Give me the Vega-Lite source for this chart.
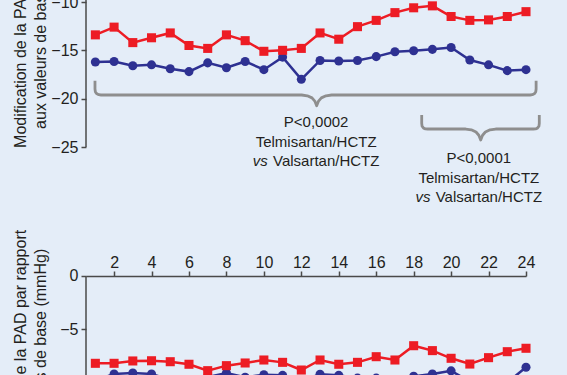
{
  "$schema": "https://vega.github.io/schema/vega-lite/v6.json",
  "width": 440,
  "height": 375,
  "autosize": {"type": "none"},
  "padding": {"left": 86, "top": 0, "right": 41, "bottom": 0},
  "background": "#E4EDF8",
  "config": {
    "view": {"stroke": null},
    "font": "Liberation Sans",
    "axis": {
      "grid": false,
      "labelFont": "Liberation Sans",
      "labelFontSize": 16,
      "labelColor": "#231F20",
      "labelFlush": false,
      "labelOverlap": false,
      "tickColor": "#4a4a4a",
      "domainColor": "#4a4a4a",
      "tickWidth": 1.5,
      "domainWidth": 1.5,
      "tickSize": 5,
      "titleFont": "Liberation Sans",
      "titleFontSize": 16,
      "titleFontWeight": "normal",
      "titleColor": "#231F20"
    }
  },
  "datasets": {
    "top": [
      {"day": 1, "drug": "Telmisartan/HCTZ", "v": -16.2},
      {"day": 2, "drug": "Telmisartan/HCTZ", "v": -16.15},
      {"day": 3, "drug": "Telmisartan/HCTZ", "v": -16.6},
      {"day": 4, "drug": "Telmisartan/HCTZ", "v": -16.5},
      {"day": 5, "drug": "Telmisartan/HCTZ", "v": -16.9},
      {"day": 6, "drug": "Telmisartan/HCTZ", "v": -17.2},
      {"day": 7, "drug": "Telmisartan/HCTZ", "v": -16.3},
      {"day": 8, "drug": "Telmisartan/HCTZ", "v": -16.8},
      {"day": 9, "drug": "Telmisartan/HCTZ", "v": -16.15},
      {"day": 10, "drug": "Telmisartan/HCTZ", "v": -17.0},
      {"day": 11, "drug": "Telmisartan/HCTZ", "v": -15.7},
      {"day": 12, "drug": "Telmisartan/HCTZ", "v": -18.0},
      {"day": 13, "drug": "Telmisartan/HCTZ", "v": -16.05},
      {"day": 14, "drug": "Telmisartan/HCTZ", "v": -16.1},
      {"day": 15, "drug": "Telmisartan/HCTZ", "v": -16.05},
      {"day": 16, "drug": "Telmisartan/HCTZ", "v": -15.65},
      {"day": 17, "drug": "Telmisartan/HCTZ", "v": -15.15},
      {"day": 18, "drug": "Telmisartan/HCTZ", "v": -15.05},
      {"day": 19, "drug": "Telmisartan/HCTZ", "v": -14.9},
      {"day": 20, "drug": "Telmisartan/HCTZ", "v": -14.7},
      {"day": 21, "drug": "Telmisartan/HCTZ", "v": -16.0},
      {"day": 22, "drug": "Telmisartan/HCTZ", "v": -16.5},
      {"day": 23, "drug": "Telmisartan/HCTZ", "v": -17.1},
      {"day": 24, "drug": "Telmisartan/HCTZ", "v": -17.0},
      {"day": 1, "drug": "Valsartan/HCTZ", "v": -13.4},
      {"day": 2, "drug": "Valsartan/HCTZ", "v": -12.6},
      {"day": 3, "drug": "Valsartan/HCTZ", "v": -14.2},
      {"day": 4, "drug": "Valsartan/HCTZ", "v": -13.7},
      {"day": 5, "drug": "Valsartan/HCTZ", "v": -13.2},
      {"day": 6, "drug": "Valsartan/HCTZ", "v": -14.5},
      {"day": 7, "drug": "Valsartan/HCTZ", "v": -14.8},
      {"day": 8, "drug": "Valsartan/HCTZ", "v": -13.4},
      {"day": 9, "drug": "Valsartan/HCTZ", "v": -14.0},
      {"day": 10, "drug": "Valsartan/HCTZ", "v": -15.1},
      {"day": 11, "drug": "Valsartan/HCTZ", "v": -15.0},
      {"day": 12, "drug": "Valsartan/HCTZ", "v": -14.8},
      {"day": 13, "drug": "Valsartan/HCTZ", "v": -13.2},
      {"day": 14, "drug": "Valsartan/HCTZ", "v": -13.85},
      {"day": 15, "drug": "Valsartan/HCTZ", "v": -12.55},
      {"day": 16, "drug": "Valsartan/HCTZ", "v": -11.9},
      {"day": 17, "drug": "Valsartan/HCTZ", "v": -11.1},
      {"day": 18, "drug": "Valsartan/HCTZ", "v": -10.6},
      {"day": 19, "drug": "Valsartan/HCTZ", "v": -10.4},
      {"day": 20, "drug": "Valsartan/HCTZ", "v": -11.5},
      {"day": 21, "drug": "Valsartan/HCTZ", "v": -11.9},
      {"day": 22, "drug": "Valsartan/HCTZ", "v": -11.85},
      {"day": 23, "drug": "Valsartan/HCTZ", "v": -11.5},
      {"day": 24, "drug": "Valsartan/HCTZ", "v": -11.0}
    ],
    "bottom": [
      {"day": 1, "drug": "Telmisartan/HCTZ", "v": -9.8},
      {"day": 2, "drug": "Telmisartan/HCTZ", "v": -9.19},
      {"day": 3, "drug": "Telmisartan/HCTZ", "v": -9.1},
      {"day": 4, "drug": "Telmisartan/HCTZ", "v": -9.19},
      {"day": 5, "drug": "Telmisartan/HCTZ", "v": -9.75},
      {"day": 6, "drug": "Telmisartan/HCTZ", "v": -9.85},
      {"day": 7, "drug": "Telmisartan/HCTZ", "v": -9.48},
      {"day": 8, "drug": "Telmisartan/HCTZ", "v": -9.1},
      {"day": 9, "drug": "Telmisartan/HCTZ", "v": -9.5},
      {"day": 10, "drug": "Telmisartan/HCTZ", "v": -9.26},
      {"day": 11, "drug": "Telmisartan/HCTZ", "v": -9.32},
      {"day": 12, "drug": "Telmisartan/HCTZ", "v": -9.85},
      {"day": 13, "drug": "Telmisartan/HCTZ", "v": -9.22},
      {"day": 14, "drug": "Telmisartan/HCTZ", "v": -9.32},
      {"day": 15, "drug": "Telmisartan/HCTZ", "v": -9.58},
      {"day": 16, "drug": "Telmisartan/HCTZ", "v": -9.58},
      {"day": 17, "drug": "Telmisartan/HCTZ", "v": -9.8},
      {"day": 18, "drug": "Telmisartan/HCTZ", "v": -9.41},
      {"day": 19, "drug": "Telmisartan/HCTZ", "v": -9.2},
      {"day": 20, "drug": "Telmisartan/HCTZ", "v": -8.9},
      {"day": 21, "drug": "Telmisartan/HCTZ", "v": -9.9},
      {"day": 22, "drug": "Telmisartan/HCTZ", "v": -10.0},
      {"day": 23, "drug": "Telmisartan/HCTZ", "v": -10.0},
      {"day": 24, "drug": "Telmisartan/HCTZ", "v": -8.56},
      {"day": 1, "drug": "Valsartan/HCTZ", "v": -8.19},
      {"day": 2, "drug": "Valsartan/HCTZ", "v": -8.19},
      {"day": 3, "drug": "Valsartan/HCTZ", "v": -7.97},
      {"day": 4, "drug": "Valsartan/HCTZ", "v": -7.95},
      {"day": 5, "drug": "Valsartan/HCTZ", "v": -8.04},
      {"day": 6, "drug": "Valsartan/HCTZ", "v": -8.28},
      {"day": 7, "drug": "Valsartan/HCTZ", "v": -8.88},
      {"day": 8, "drug": "Valsartan/HCTZ", "v": -8.41},
      {"day": 9, "drug": "Valsartan/HCTZ", "v": -8.16},
      {"day": 10, "drug": "Valsartan/HCTZ", "v": -7.88},
      {"day": 11, "drug": "Valsartan/HCTZ", "v": -8.1},
      {"day": 12, "drug": "Valsartan/HCTZ", "v": -8.82},
      {"day": 13, "drug": "Valsartan/HCTZ", "v": -7.88},
      {"day": 14, "drug": "Valsartan/HCTZ", "v": -8.28},
      {"day": 15, "drug": "Valsartan/HCTZ", "v": -8.1},
      {"day": 16, "drug": "Valsartan/HCTZ", "v": -7.57},
      {"day": 17, "drug": "Valsartan/HCTZ", "v": -7.88},
      {"day": 18, "drug": "Valsartan/HCTZ", "v": -6.54},
      {"day": 19, "drug": "Valsartan/HCTZ", "v": -7.0},
      {"day": 20, "drug": "Valsartan/HCTZ", "v": -7.72},
      {"day": 21, "drug": "Valsartan/HCTZ", "v": -8.26},
      {"day": 22, "drug": "Valsartan/HCTZ", "v": -7.66},
      {"day": 23, "drug": "Valsartan/HCTZ", "v": -7.1},
      {"day": 24, "drug": "Valsartan/HCTZ", "v": -6.78}
    ],
    "brackets": [
      {"b": "A", "i": 0, "x": 0.98, "y": -18.14},
      {"b": "A", "i": 1, "x": 0.98, "y": -19.0},
      {"b": "A", "i": 2, "x": 1.0, "y": -19.3},
      {"b": "A", "i": 3, "x": 1.08, "y": -19.5},
      {"b": "A", "i": 4, "x": 1.18, "y": -19.59},
      {"b": "A", "i": 5, "x": 1.3, "y": -19.62},
      {"b": "A", "i": 6, "x": 12.02, "y": -19.62},
      {"b": "A", "i": 7, "x": 12.32, "y": -19.7},
      {"b": "A", "i": 8, "x": 12.57, "y": -19.92},
      {"b": "A", "i": 9, "x": 12.72, "y": -20.25},
      {"b": "A", "i": 10, "x": 12.82, "y": -20.73},
      {"b": "A", "i": 11, "x": 12.92, "y": -20.25},
      {"b": "A", "i": 12, "x": 13.07, "y": -19.92},
      {"b": "A", "i": 13, "x": 13.32, "y": -19.7},
      {"b": "A", "i": 14, "x": 13.62, "y": -19.62},
      {"b": "A", "i": 15, "x": 24.22, "y": -19.62},
      {"b": "A", "i": 16, "x": 24.34, "y": -19.59},
      {"b": "A", "i": 17, "x": 24.44, "y": -19.5},
      {"b": "A", "i": 18, "x": 24.52, "y": -19.3},
      {"b": "A", "i": 19, "x": 24.54, "y": -19.0},
      {"b": "A", "i": 20, "x": 24.54, "y": -18.14},
      {"b": "B", "i": 0, "x": 18.43, "y": -21.69},
      {"b": "B", "i": 1, "x": 18.43, "y": -22.55},
      {"b": "B", "i": 2, "x": 18.45, "y": -22.85},
      {"b": "B", "i": 3, "x": 18.53, "y": -23.05},
      {"b": "B", "i": 4, "x": 18.63, "y": -23.13},
      {"b": "B", "i": 5, "x": 18.75, "y": -23.14},
      {"b": "B", "i": 6, "x": 20.78, "y": -23.14},
      {"b": "B", "i": 7, "x": 21.08, "y": -23.22},
      {"b": "B", "i": 8, "x": 21.33, "y": -23.45},
      {"b": "B", "i": 9, "x": 21.48, "y": -23.78},
      {"b": "B", "i": 10, "x": 21.58, "y": -24.28},
      {"b": "B", "i": 11, "x": 21.68, "y": -23.78},
      {"b": "B", "i": 12, "x": 21.83, "y": -23.45},
      {"b": "B", "i": 13, "x": 22.08, "y": -23.22},
      {"b": "B", "i": 14, "x": 22.38, "y": -23.14},
      {"b": "B", "i": 15, "x": 24.39, "y": -23.14},
      {"b": "B", "i": 16, "x": 24.51, "y": -23.13},
      {"b": "B", "i": 17, "x": 24.61, "y": -23.05},
      {"b": "B", "i": 18, "x": 24.69, "y": -22.85},
      {"b": "B", "i": 19, "x": 24.71, "y": -22.55},
      {"b": "B", "i": 20, "x": 24.71, "y": -21.69}
    ],
    "notes": [
      {"x": 12.79, "y": -22.94, "label": "P<0,0002"},
      {"x": 12.79, "y": -24.96, "label": "Telmisartan/HCTZ"},
      {"x": 21.48, "y": -26.7, "label": "P<0,0001"},
      {"x": 21.48, "y": -28.71, "label": "Telmisartan/HCTZ"}
    ],
    "vslines": [
      {"x": 12.79, "y": -26.98, "pre": "vs", "rest": "Valsartan/HCTZ"},
      {"x": 21.48, "y": -30.73, "pre": "vs", "rest": "Valsartan/HCTZ"}
    ],
    "axisTop": [{"x": 0.5, "y": -25, "y2": -9.7}],
    "axisBottom": [{"x": 0.5, "y": 0, "y2": -12}]
  },
  "layer": [
    {
      "data": {"name": "axisTop"},
      "mark": {"type": "rule", "color": "#4a4a4a", "strokeWidth": 1.5},
      "encoding": {
        "x": {
          "field": "x", "type": "quantitative",
          "scale": {"domain": [0.5, 24], "nice": false, "zero": false},
          "axis": {
            "orient": "top",
            "offset": -276,
            "values": [2, 4, 6, 8, 10, 12, 14, 16, 18, 20, 22, 24],
            "domain": true,
            "labelPadding": 1,
            "title": null
          }
        },
        "y": {
          "field": "y", "type": "quantitative",
          "scale": {"domain": [-48.586, -9.793], "nice": false, "zero": false},
          "axis": {
            "orient": "left",
            "values": [-10, -15, -20, -25],
            "domain": false,
            "labelPadding": 3,
            "title": ["Modification de la PAD par rapport", "aux valeurs de base (mmHg)"],
            "titleAngle": 270,
            "titleX": -60.5,
            "titleY": 25.7,
            "titleAlign": "center",
            "titleBaseline": "alphabetic",
            "titleLineHeight": 20
          }
        },
        "y2": {"field": "y2"}
      }
    },
    {
      "data": {"name": "axisBottom"},
      "mark": {"type": "rule", "color": "#4a4a4a", "strokeWidth": 1.5},
      "encoding": {
        "x": {"field": "x", "type": "quantitative", "scale": {"domain": [0.5, 24], "nice": false, "zero": false}, "axis": null},
        "y": {
          "field": "y", "type": "quantitative",
          "scale": {"domain": [-9.287, 25.89], "nice": false, "zero": false},
          "axis": {
            "orient": "left",
            "values": [0, -5, -10],
            "domain": false,
            "labelPadding": 3,
            "title": ["Modification de la PAD par rapport", "aux valeurs de base (mmHg)"],
            "titleAngle": 270,
            "titleX": -60.5,
            "titleY": 351,
            "titleAlign": "center",
            "titleBaseline": "alphabetic",
            "titleLineHeight": 20
          }
        },
        "y2": {"field": "y2"}
      }
    },
    {
      "data": {"name": "top"},
      "mark": {"type": "line", "strokeWidth": 2.5},
      "encoding": {
        "x": {"field": "day", "type": "quantitative", "scale": {"domain": [0.5, 24], "nice": false, "zero": false}, "axis": null},
        "y": {"field": "v", "type": "quantitative", "scale": {"domain": [-48.586, -9.793], "nice": false, "zero": false}, "axis": null},
        "color": {"field": "drug", "type": "nominal", "scale": {"domain": ["Telmisartan/HCTZ", "Valsartan/HCTZ"], "range": ["#2E3192", "#ED1C24"]}, "legend": null}
      }
    },
    {
      "data": {"name": "top"},
      "mark": {"type": "point", "filled": true, "opacity": 1, "size": 82},
      "encoding": {
        "x": {"field": "day", "type": "quantitative", "scale": {"domain": [0.5, 24], "nice": false, "zero": false}, "axis": null},
        "y": {"field": "v", "type": "quantitative", "scale": {"domain": [-48.586, -9.793], "nice": false, "zero": false}, "axis": null},
        "color": {"field": "drug", "type": "nominal", "scale": {"domain": ["Telmisartan/HCTZ", "Valsartan/HCTZ"], "range": ["#2E3192", "#ED1C24"]}, "legend": null},
        "shape": {"field": "drug", "type": "nominal", "scale": {"domain": ["Telmisartan/HCTZ", "Valsartan/HCTZ"], "range": ["circle", "square"]}, "legend": null}
      }
    },
    {
      "data": {"name": "brackets"},
      "mark": {"type": "line", "color": "#8E8E8E", "strokeWidth": 2.8, "strokeJoin": "round"},
      "encoding": {
        "x": {"field": "x", "type": "quantitative", "scale": {"domain": [0.5, 24], "nice": false, "zero": false}, "axis": null},
        "y": {"field": "y", "type": "quantitative", "scale": {"domain": [-48.586, -9.793], "nice": false, "zero": false}, "axis": null},
        "detail": {"field": "b", "type": "nominal"},
        "order": {"field": "i", "type": "quantitative"}
      }
    },
    {
      "data": {"name": "notes"},
      "mark": {"type": "text", "fontSize": 15, "align": "center", "baseline": "alphabetic", "color": "#231F20"},
      "encoding": {
        "x": {"field": "x", "type": "quantitative", "scale": {"domain": [0.5, 24], "nice": false, "zero": false}, "axis": null},
        "y": {"field": "y", "type": "quantitative", "scale": {"domain": [-48.586, -9.793], "nice": false, "zero": false}, "axis": null},
        "text": {"field": "label"}
      }
    },
    {
      "data": {"name": "vslines"},
      "mark": {"type": "text", "fontSize": 15, "fontStyle": "italic", "align": "left", "baseline": "alphabetic", "dx": -63.3, "color": "#231F20"},
      "encoding": {
        "x": {"field": "x", "type": "quantitative", "scale": {"domain": [0.5, 24], "nice": false, "zero": false}, "axis": null},
        "y": {"field": "y", "type": "quantitative", "scale": {"domain": [-48.586, -9.793], "nice": false, "zero": false}, "axis": null},
        "text": {"field": "pre"}
      }
    },
    {
      "data": {"name": "vslines"},
      "mark": {"type": "text", "fontSize": 15, "align": "right", "baseline": "alphabetic", "dx": 63.3, "color": "#231F20"},
      "encoding": {
        "x": {"field": "x", "type": "quantitative", "scale": {"domain": [0.5, 24], "nice": false, "zero": false}, "axis": null},
        "y": {"field": "y", "type": "quantitative", "scale": {"domain": [-48.586, -9.793], "nice": false, "zero": false}, "axis": null},
        "text": {"field": "rest"}
      }
    },
    {
      "data": {"name": "bottom"},
      "mark": {"type": "line", "strokeWidth": 2.5},
      "encoding": {
        "x": {"field": "day", "type": "quantitative", "scale": {"domain": [0.5, 24], "nice": false, "zero": false}, "axis": null},
        "y": {"field": "v", "type": "quantitative", "scale": {"domain": [-9.287, 25.89], "nice": false, "zero": false}, "axis": null},
        "color": {"field": "drug", "type": "nominal", "scale": {"domain": ["Telmisartan/HCTZ", "Valsartan/HCTZ"], "range": ["#2E3192", "#ED1C24"]}, "legend": null}
      }
    },
    {
      "data": {"name": "bottom"},
      "mark": {"type": "point", "filled": true, "opacity": 1, "size": 82},
      "encoding": {
        "x": {"field": "day", "type": "quantitative", "scale": {"domain": [0.5, 24], "nice": false, "zero": false}, "axis": null},
        "y": {"field": "v", "type": "quantitative", "scale": {"domain": [-9.287, 25.89], "nice": false, "zero": false}, "axis": null},
        "color": {"field": "drug", "type": "nominal", "scale": {"domain": ["Telmisartan/HCTZ", "Valsartan/HCTZ"], "range": ["#2E3192", "#ED1C24"]}, "legend": null},
        "shape": {"field": "drug", "type": "nominal", "scale": {"domain": ["Telmisartan/HCTZ", "Valsartan/HCTZ"], "range": ["circle", "square"]}, "legend": null}
      }
    }
  ],
  "resolve": {"scale": {"y": "independent"}, "axis": {"x": "independent"}}
}
